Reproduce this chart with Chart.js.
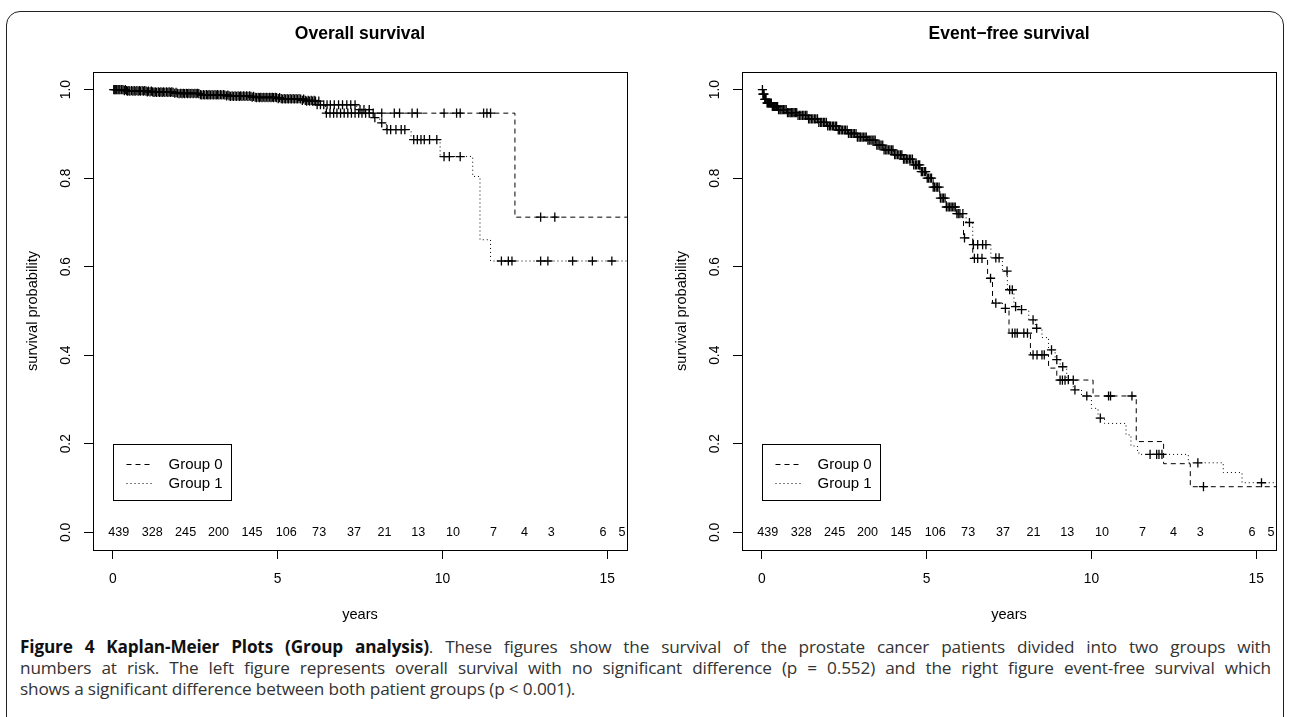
<!DOCTYPE html>
<html>
<head>
<meta charset="utf-8">
<script src="https://cdn.jsdelivr.net/npm/chart.js@4.4.1/dist/chart.umd.min.js"></script>
<style>
  html, body { margin: 0; padding: 0; background: #fff; width: 1289px; height: 717px; overflow: hidden; }
  #frame { position: absolute; left: 6px; top: 11px; width: 1278px; height: 800px; border: 1.5px solid #222; border-radius: 14px; box-sizing: border-box; }
  canvas { position: absolute; top: 0; }
  #c1 { left: 0; }
  #c2 { left: 649px; }
  #caption { position: absolute; left: 20px; top: 636px; width: 1251px; font-family: "Open Sans", "Noto Sans", sans-serif; font-size: 17.2px; letter-spacing: -0.15px; line-height: 21px; color: #333; }
  #caption .j { text-align: justify; text-align-last: justify; white-space: nowrap; }
  #caption b { color: #111; }
</style>
</head>
<body>
<div id="frame"></div>
<canvas id="c1" width="640" height="632"></canvas>
<canvas id="c2" width="640" height="632"></canvas>
<div id="caption">
  <div class="j"><b>Figure 4 Kaplan-Meier Plots (Group analysis)</b>. These figures show the survival of the prostate cancer patients divided into two groups with</div>
  <div class="j">numbers at risk. The left figure represents overall survival with no significant difference (p = 0.552) and the right figure event-free survival which</div>
  <div>shows a significant difference between both patient groups (p &lt; 0.001).</div>
</div>
<script>
// ---------- data ----------
const xTickValues = [0, 5, 10, 15];
const yTickValues = [0, 0.2, 0.4, 0.6, 0.8, 1.0];
const groupLabels = ['Group 0', 'Group 1'];
const riskCounts = [439, 328, 245, 200, 145, 106, 73, 37, 21, 13, 10, 7, 4, 3, 6, 5];
const riskTimes  = [0.18, 1.2, 2.21, 3.21, 4.22, 5.26, 6.26, 7.32, 8.24, 9.27, 10.32, 11.55, 12.49, 13.3, 14.87, 15.45];
const followUpEnd = 15.6;

// Overall survival, group 0
const os0Times = [0, 0.4, 1.2, 2.0, 2.7, 3.5, 4.3, 5.1, 5.8, 6.3, 6.45, 12.2];
const os0Surv  = [1.0, 0.997, 0.994, 0.991, 0.988, 0.985, 0.982, 0.979, 0.974, 0.966, 0.947, 0.712];
const os0Censor = [0.03, 0.09, 0.16, 0.22, 0.31, 0.38, 0.45, 0.52, 0.61, 0.68, 0.77, 0.84, 0.93, 1.01, 1.08, 1.17, 1.25, 1.33, 1.42, 1.5, 1.58, 1.67, 1.75, 1.83, 1.92, 2.01, 2.1, 2.18, 2.27, 2.35, 2.44, 2.53, 2.61, 2.7, 2.79, 2.88, 2.96, 3.05, 3.14, 3.22, 3.31, 3.4, 3.49, 3.57, 3.66, 3.75, 3.84, 3.92, 4.01, 4.1, 4.19, 4.27, 4.36, 4.45, 4.53, 4.62, 4.71, 4.8, 4.88, 4.97, 5.06, 5.15, 5.24, 5.33, 5.42, 5.51, 5.6, 5.7, 5.79, 5.88, 5.97, 6.06, 6.15, 6.25, 6.48, 6.59, 6.7, 6.8, 6.91, 7.02, 7.13, 7.24, 7.35, 7.46, 7.56, 7.67, 7.78, 7.9, 8.16, 8.54, 8.7, 9.08, 9.24, 10.05, 10.43, 10.54, 11.25, 11.35, 11.46, 12.98, 13.41];

// Overall survival, group 1
const os1Times = [0, 0.3, 1.0, 1.8, 2.6, 3.4, 4.2, 5.0, 5.7, 6.2, 7.4, 7.8, 8.1, 8.3, 9.05, 9.93, 10.92, 11.14, 11.46];
const os1Surv  = [1.0, 0.998, 0.995, 0.992, 0.989, 0.986, 0.983, 0.98, 0.976, 0.966, 0.955, 0.937, 0.925, 0.91, 0.887, 0.849, 0.804, 0.661, 0.613];
const os1Censor = [0.06, 0.12, 0.19, 0.27, 0.35, 0.42, 0.49, 0.57, 0.65, 0.73, 0.81, 0.89, 0.97, 1.05, 1.13, 1.21, 1.29, 1.38, 1.46, 1.54, 1.63, 1.71, 1.79, 1.88, 1.96, 2.06, 2.14, 2.23, 2.31, 2.4, 2.49, 2.57, 2.66, 2.75, 2.84, 2.92, 3.01, 3.1, 3.18, 3.27, 3.36, 3.45, 3.53, 3.62, 3.71, 3.8, 3.88, 3.97, 4.06, 4.15, 4.23, 4.32, 4.41, 4.49, 4.58, 4.67, 4.76, 4.84, 4.93, 5.02, 5.11, 5.2, 5.29, 5.38, 5.47, 5.56, 5.65, 5.75, 5.84, 5.93, 6.02, 6.11, 6.2, 6.3, 6.4, 6.5, 6.6, 6.72, 6.85, 6.97, 7.1, 7.22, 7.35, 7.5, 7.62, 7.78, 7.95, 8.16, 8.32, 8.43, 8.59, 8.75, 8.86, 9.13, 9.24, 9.35, 9.45, 9.61, 9.83, 10.05, 10.21, 10.54, 11.79, 12.0, 12.11, 12.98, 13.2, 13.95, 14.55, 15.14];

// Event-free survival, shared early part
const efsBandTimes = [0, 0.03, 0.08, 0.15, 0.3, 0.5, 0.75, 1.1, 1.4, 1.7, 2.0, 2.3, 2.6, 2.9, 3.2, 3.45, 3.7, 4.0, 4.3, 4.6, 4.8, 5.0, 5.2, 5.4, 5.6, 5.9];
const efsBandSurv  = [1.0, 0.99, 0.978, 0.97, 0.962, 0.955, 0.948, 0.942, 0.934, 0.926, 0.918, 0.909, 0.901, 0.893, 0.886, 0.875, 0.864, 0.853, 0.843, 0.83, 0.815, 0.8, 0.78, 0.755, 0.735, 0.72];
// Event-free survival, group 0 after split
const efs0TailTimes = [6.05, 6.12, 6.4, 6.85, 7.0, 7.3, 7.5, 8.15, 8.7, 8.95, 10.05, 11.36, 12.19, 13.0];
const efs0TailSurv  = [0.712, 0.665, 0.619, 0.574, 0.518, 0.506, 0.45, 0.401, 0.371, 0.344, 0.308, 0.205, 0.155, 0.103];
const efs0Censor = [0.02, 0.05, 0.09, 0.13, 0.18, 0.23, 0.29, 0.35, 0.41, 0.48, 0.55, 0.62, 0.7, 0.78, 0.86, 0.94, 1.02, 1.1, 1.19, 1.28, 1.37, 1.46, 1.55, 1.64, 1.73, 1.82, 1.91, 2.0, 2.09, 2.18, 2.27, 2.36, 2.45, 2.54, 2.63, 2.72, 2.81, 2.9, 2.99, 3.08, 3.17, 3.26, 3.35, 3.44, 3.53, 3.62, 3.71, 3.8, 3.89, 3.98, 4.07, 4.16, 4.25, 4.34, 4.43, 4.52, 4.61, 4.7, 4.79, 4.88, 4.97, 5.06, 5.15, 5.24, 5.33, 5.42, 5.51, 5.6, 5.69, 5.78, 5.87, 5.96, 6.15, 6.45, 6.55, 6.68, 6.94, 7.1, 7.39, 7.6, 7.68, 7.75, 7.95, 8.06, 8.23, 8.35, 8.5, 8.57, 9.05, 9.12, 9.2, 9.45, 10.52, 10.58, 11.23, 13.4];
// Event-free survival, group 1 after split
const efs1TailTimes = [6.2, 6.4, 6.95, 7.3, 7.45, 7.65, 7.8, 8.1, 8.3, 8.5, 8.7, 8.9, 9.05, 9.25, 9.45, 9.7, 10.0, 10.2, 10.4, 11.05, 11.2, 11.4, 11.5, 12.94, 14.0, 14.57];
const efs1TailSurv  = [0.7, 0.65, 0.62, 0.59, 0.548, 0.51, 0.503, 0.48, 0.461, 0.44, 0.412, 0.39, 0.374, 0.345, 0.322, 0.308, 0.28, 0.258, 0.246, 0.22, 0.195, 0.179, 0.176, 0.157, 0.135, 0.112];
const efs1Censor = [0.035, 0.07, 0.11, 0.16, 0.2, 0.26, 0.32, 0.38, 0.45, 0.51, 0.58, 0.66, 0.74, 0.82, 0.9, 0.98, 1.06, 1.15, 1.24, 1.33, 1.42, 1.51, 1.6, 1.69, 1.78, 1.87, 1.96, 2.05, 2.14, 2.23, 2.32, 2.41, 2.5, 2.59, 2.68, 2.77, 2.86, 2.95, 3.04, 3.13, 3.22, 3.31, 3.4, 3.49, 3.58, 3.67, 3.76, 3.85, 3.94, 4.03, 4.12, 4.21, 4.3, 4.39, 4.48, 4.57, 4.66, 4.75, 4.84, 4.93, 5.02, 5.11, 5.2, 5.29, 5.38, 5.47, 5.56, 5.65, 5.74, 5.83, 5.92, 6.01, 6.1, 6.3, 6.42, 6.55, 6.7, 6.8, 7.1, 7.2, 7.44, 7.52, 7.6, 7.7, 7.88, 8.23, 8.34, 8.79, 8.95, 9.13, 9.3, 9.5, 9.86, 10.27, 11.78, 11.98, 12.05, 12.14, 13.23, 15.16];

const efs0Times = efsBandTimes.concat(efs0TailTimes);
const efs0Surv  = efsBandSurv.concat(efs0TailSurv);
const efs1Times = efsBandTimes.concat(efs1TailTimes);
const efs1Surv  = efsBandSurv.concat(efs1TailSurv);

// ---------- helpers ----------
const FONT = '"Liberation Sans", Arial, Helvetica, sans-serif';
function stepValue(times, surv, t) {
  let v = surv[0];
  for (let i = 0; i < times.length; i++) { if (times[i] <= t) v = surv[i]; else break; }
  return v;
}
function curvePoints(times, surv) {
  const pts = times.map((t, i) => ({ x: t, y: surv[i] }));
  pts.push({ x: followUpEnd, y: surv[surv.length - 1] });
  return pts;
}
function censorPoints(times, surv, cens) {
  return cens.map(t => ({ x: t, y: stepValue(times, surv, t) }));
}
const dashStyles = [[5, 4], [1, 3]];

const decor = {
  id: 'decor',
  afterDatasetsDraw(chart) {
    const { ctx, chartArea: a, scales: { x, y } } = chart;
    ctx.save();
    ctx.strokeStyle = '#000';
    ctx.lineWidth = 1;
    ctx.setLineDash([]);
    ctx.strokeRect(Math.round(a.left) + 0.5, Math.round(a.top) + 0.5, Math.round(a.right - a.left), Math.round(a.bottom - a.top));
    // numbers at risk
    ctx.fillStyle = '#000';
    ctx.font = '12.6px ' + FONT;
    ctx.textAlign = 'center';
    ctx.textBaseline = 'middle';
    const y0 = y.getPixelForValue(0);
    riskCounts.forEach((n, i) => ctx.fillText(String(n), x.getPixelForValue(riskTimes[i]), y0 + 0.5));
    // legend
    const lx = Math.round(x.getPixelForValue(0)) + 0.5;
    const ly = Math.round(y.getPixelForValue(0.2)) + 0.5;
    ctx.fillStyle = '#fff';
    ctx.fillRect(lx, ly, 118, 56);
    ctx.strokeRect(lx, ly, 118, 56);
    ctx.font = '15px ' + FONT;
    ctx.textAlign = 'left';
    groupLabels.forEach((lab, i) => {
      const ry = Math.round(ly + 19 + i * 19) + 0.5;
      ctx.setLineDash(dashStyles[i]);
      ctx.beginPath();
      ctx.moveTo(lx + 13, ry);
      ctx.lineTo(lx + 40, ry);
      ctx.stroke();
      ctx.setLineDash([]);
      ctx.fillStyle = '#000';
      ctx.fillText(lab, lx + 55, ry);
    });
    ctx.restore();
  }
};

function makeChart(id, title, g0, g1) {
  const lineDs = (g, i) => ({
    data: curvePoints(g.times, g.surv), showLine: true, stepped: true,
    borderColor: '#000', borderWidth: 1, borderDash: dashStyles[i], pointRadius: 0, fill: false
  });
  const censDs = (g) => ({
    data: censorPoints(g.times, g.surv, g.cens), showLine: false,
    pointStyle: 'cross', pointRadius: 4.6, pointBorderColor: '#000', pointBorderWidth: 1.3, pointBackgroundColor: '#000'
  });
  return new Chart(document.getElementById(id), {
    type: 'scatter',
    data: { datasets: [lineDs(g0, 0), lineDs(g1, 1), censDs(g0), censDs(g1)] },
    options: {
      responsive: false, animation: false, devicePixelRatio: 1,
      layout: { padding: { left: 0, right: 13, top: 0, bottom: 0 } },
      plugins: {
        legend: { display: false }, tooltip: { enabled: false },
        title: { display: true, fullSize: false, text: title, color: '#000',
                 font: { family: FONT, size: 17.5, weight: 'bold' }, padding: { top: 24, bottom: 27 } }
      },
      scales: {
        x: {
          type: 'linear', position: 'bottom', min: -0.6, max: 15.6,
          afterBuildTicks: s => { s.ticks = xTickValues.map(v => ({ value: v })); },
          afterFit: s => { s.height = 82; },
          ticks: { color: '#000', font: { family: FONT, size: 13.8 }, padding: 12, maxRotation: 0, autoSkip: false,
                   callback: v => String(v) },
          grid: { display: true, drawOnChartArea: false, drawTicks: true, tickLength: 9, color: '#000', lineWidth: 1 },
          border: { display: false },
          title: { display: true, text: 'years', color: '#000', font: { family: FONT, size: 14.6 }, padding: { top: 0, bottom: 8 } }
        },
        y: {
          type: 'linear', position: 'left', min: -0.04, max: 1.04,
          afterBuildTicks: s => { s.ticks = yTickValues.map(v => ({ value: v })); },
          afterFit: s => { s.width = 93; },
          ticks: { color: '#000', font: { family: FONT, size: 13.8 }, padding: 8, minRotation: 90, maxRotation: 90,
                   crossAlign: 'center', autoSkip: false, callback: v => v.toFixed(1) },
          grid: { display: true, drawOnChartArea: false, drawTicks: true, tickLength: 9, color: '#000', lineWidth: 1 },
          border: { display: false },
          title: { display: true, text: 'survival probability', color: '#000', font: { family: FONT, size: 14.6 }, padding: { top: 24, bottom: 0 } }
        }
      }
    },
    plugins: [decor]
  });
}

makeChart('c1', 'Overall survival',
  { times: os0Times, surv: os0Surv, cens: os0Censor },
  { times: os1Times, surv: os1Surv, cens: os1Censor });
makeChart('c2', 'Event\u2212free survival',
  { times: efs0Times, surv: efs0Surv, cens: efs0Censor },
  { times: efs1Times, surv: efs1Surv, cens: efs1Censor });
</script>
</body>
</html>
